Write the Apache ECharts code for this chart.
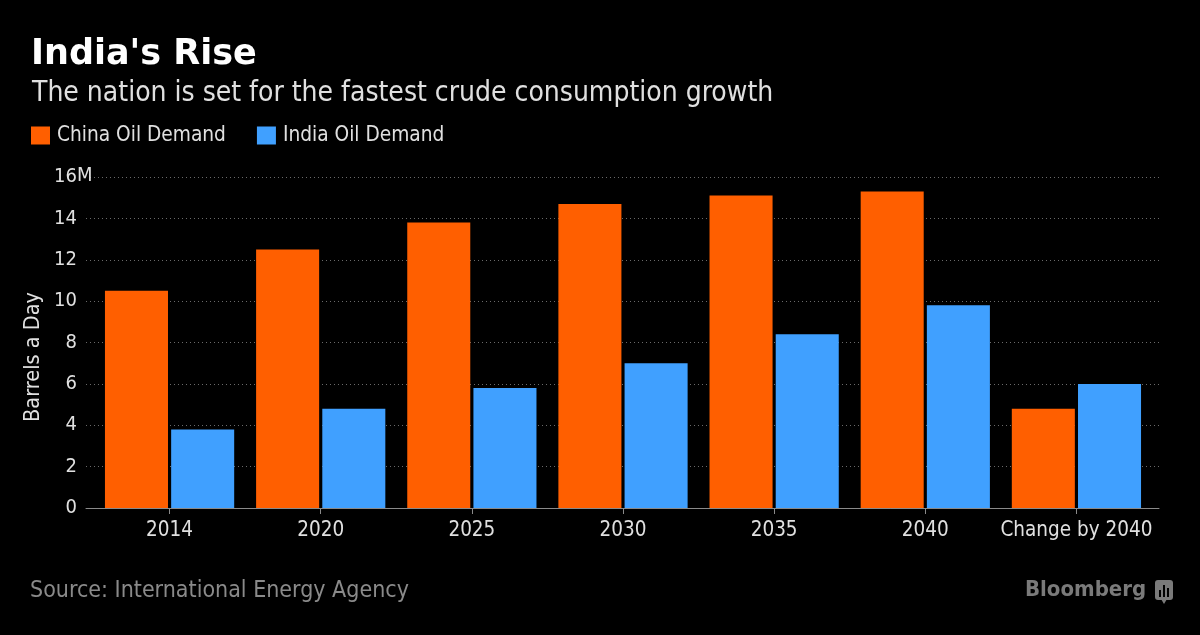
<!DOCTYPE html>
<html>
<head>
<meta charset="utf-8">
<script src="https://cdn.jsdelivr.net/npm/echarts@6/dist/echarts.min.js"></script>
<style>
html,body{margin:0;padding:0;background:#000;}
#chart{width:1200px;height:635px;}
</style>
</head>
<body>
<div id="chart"></div>
<script>
var categories = ['2014', '2020', '2025', '2030', '2035', '2040', 'Change by 2040'];
var chinaDemand = [10.5, 12.5, 13.8, 14.7, 15.1, 15.3, 4.8];
var indiaDemand = [3.8, 4.8, 5.8, 7.0, 8.4, 9.8, 6.0];
var seriesNames = ['China Oil Demand', 'India Oil Demand'];
var yTicks = { min: 0, max: 16, interval: 2 };

var FONT = '"DejaVu Sans Condensed", "Liberation Sans Narrow", "DejaVu Sans", sans-serif';
var FONT_WIDE = '"DejaVu Sans", "Liberation Sans", sans-serif';
var chart = echarts.init(document.getElementById('chart'), null, { renderer: 'canvas' });

var option = {
  backgroundColor: '#000000',
  animation: false,
  textStyle: { fontFamily: FONT },
  title: [
    { text: "India's Rise", left: 31, top: 37, padding: 0,
      textStyle: { color: '#ffffff', fontSize: 35, fontWeight: 'bold', fontFamily: FONT_WIDE } },
    { text: 'The nation is set for the fastest crude consumption growth', left: 32, top: 80, padding: 0,
      textStyle: { color: '#e0e0e0', fontSize: 28, fontWeight: 'normal', fontFamily: FONT } }
  ],
  legend: {
    left: 31, top: 125, padding: 0,
    itemWidth: 19, itemHeight: 18, itemGap: 31,
    icon: 'rect',
    textStyle: { color: '#e0e0e0', fontSize: 20.7, fontFamily: FONT, padding: [0, 0, 0, 2] },
    data: seriesNames
  },
  grid: [
    { left: 94, right: 48, top: 177, bottom: 127, containLabel: false },
    { left: 86, right: 41, top: 177, bottom: 127, containLabel: false }
  ],
  xAxis: [
    { type: 'category', gridIndex: 0, data: categories,
      axisLine: { show: false },
      axisTick: { show: true, alignWithLabel: true, length: 6, lineStyle: { color: '#8a8a8a' } },
      axisLabel: { color: '#e0e0e0', fontSize: 20.5, margin: 12, fontFamily: FONT, interval: 0 },
      splitLine: { show: false } },
    { type: 'value', gridIndex: 1, min: 0, max: 1, show: true,
      axisLine: { show: true, onZero: false, lineStyle: { color: '#8a8a8a', width: 1 } },
      axisTick: { show: false }, axisLabel: { show: false }, splitLine: { show: false } }
  ],
  yAxis: [
    { type: 'value', gridIndex: 0, min: yTicks.min, max: yTicks.max, interval: yTicks.interval,
      axisLine: { show: false }, axisTick: { show: false },
      axisLabel: { color: '#e0e0e0', fontSize: 20, margin: 17, fontFamily: FONT,
        formatter: function (v) { return String(v); } },
      splitLine: { show: false } },
    { type: 'value', gridIndex: 1, min: yTicks.min, max: yTicks.max, interval: yTicks.interval,
      axisLine: { show: false }, axisTick: { show: false }, axisLabel: { show: false },
      splitLine: { show: true, lineStyle: { color: '#6a6a6a', type: [1, 3], width: 1 } } }
  ],
  series: [
    { name: seriesNames[0], type: 'bar', xAxisIndex: 0, yAxisIndex: 0, data: chinaDemand,
      itemStyle: { color: '#ff5f00' }, barGap: '5%', barCategoryGap: '14.5%' },
    { name: seriesNames[1], type: 'bar', xAxisIndex: 0, yAxisIndex: 0, data: indiaDemand,
      itemStyle: { color: '#40a0ff' }, barGap: '5%', barCategoryGap: '14.5%' }
  ],
  graphic: [
    { type: 'text', x: 33, y: 357, rotation: Math.PI / 2, z: 5,
      style: { text: 'Barrels a Day', fill: '#e0e0e0', font: '21.5px ' + FONT, align: 'center', verticalAlign: 'middle' } },
    { type: 'rect', left: 77, top: 170, shape: { width: 12, height: 16 }, style: { fill: '#000' }, z: 10 },
    { type: 'text', left: 77, top: 166, z: 11,
      style: { text: 'M', fill: '#e0e0e0', font: '20px ' + FONT } },
    { type: 'text', left: 30, top: 580,
      style: { text: 'Source: International Energy Agency', fill: '#8a8a8a', font: '23px ' + FONT } },
    { type: 'text', left: 1025, top: 579,
      style: { text: 'Bloomberg', fill: '#7a7a7a', font: 'bold 22px ' + FONT } },
    { type: 'group', left: 1155, top: 580, children: [
      { type: 'rect', shape: { x: 0, y: 0, width: 18, height: 20, r: 3 }, style: { fill: '#7a7a7a' } },
      { type: 'polygon', shape: { points: [[6, 19], [12, 19], [9, 24]] }, style: { fill: '#7a7a7a' } },
      { type: 'rect', shape: { x: 4, y: 10, width: 2, height: 7 }, style: { fill: '#000' } },
      { type: 'rect', shape: { x: 8, y: 5, width: 2, height: 12 }, style: { fill: '#000' } },
      { type: 'rect', shape: { x: 12, y: 8, width: 2, height: 9 }, style: { fill: '#000' } }
    ] }
  ]
};
chart.setOption(option);
</script>
</body>
</html>
